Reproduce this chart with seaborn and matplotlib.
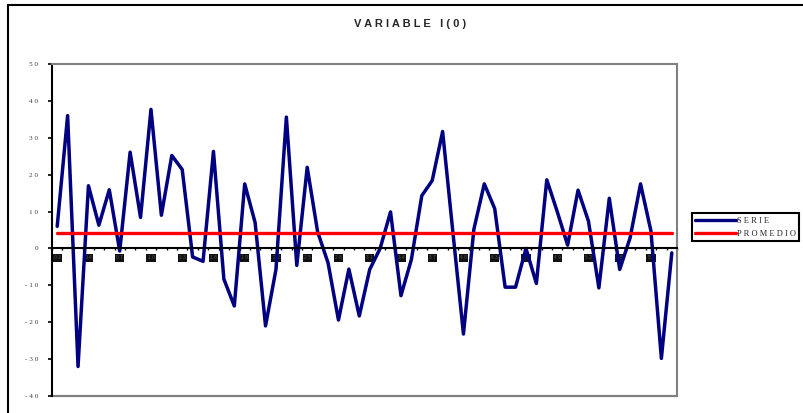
import numpy as np
import pandas as pd
import seaborn as sns
import matplotlib.pyplot as plt
from matplotlib.lines import Line2D

# values
serie = [6, 36, -32, 17, 6.3, 15.9, -0.7, 26.1, 8.4, 37.7,
         9, 25.2, 21.4, -2.3, -3.5, 26.3, -8.3, -15.6, 17.5, 7,
         -21, -5.7, 35.6, -4.6, 22, 4.5, -3.9, -19.4, -5.6, -18.3,
         -5.7, 0, 9.9, -12.8, -3, 14.3, 18.4, 31.7, 4, -23.2,
         5.2, 17.5, 10.8, -10.5, -10.5, 0, -9.5, 18.6, 10, 0.9,
         15.8, 7.4, -10.7, 13.6, -5.7, 2.9, 17.5, 4.7, -29.8, -1.2]
promedio = 4.3
periodos = list(range(1, len(serie) + 1))
y_ticks = [-40, -30, -20, -10, 0, 10, 20, 30, 40, 50]

df = pd.DataFrame({"periodo": range(len(serie)), "SERIE": serie,
                   "PROMEDIO": [promedio] * len(serie)})

sns.set_style("white")
plt.rcParams['font.family'] = ['Liberation Sans', 'DejaVu Sans']

fig = plt.figure(figsize=(8.04, 4.13), dpi=100)
W, H = 804, 413
ax = fig.add_axes([52 / W, 1 - 396 / H, (677 - 52) / W, (396 - 64) / H])

sns.lineplot(data=df, x="periodo", y="SERIE", color="#000080", linewidth=2.5, ax=ax)
sns.lineplot(data=df, x="periodo", y="PROMEDIO", color="#ff0000", linewidth=2.4, ax=ax)

ax.set_xlim(-0.5, len(serie) - 0.5)
ax.set_ylim(-40, 50)
ax.set_xlabel("")
ax.set_ylabel("")

# gray plot-area frame, black y axis and x axis at zero
for s in ["top", "right"]:
    ax.spines[s].set_color("#808080")
    ax.spines[s].set_linewidth(1.5)
ax.spines["left"].set_color("black")
ax.spines["left"].set_linewidth(1.5)
ax.spines["bottom"].set_position(("data", 0))
ax.spines["bottom"].set_color("black")
ax.spines["bottom"].set_linewidth(1.5)
ax.axhline(-40, color="#808080", linewidth=1.6, clip_on=False, zorder=0)

ax.set_yticks(y_ticks)
ax.set_yticklabels([" ".join(str(v)) for v in y_ticks], family="Liberation Serif",
                   fontsize=5.2, color="#404040")
ax.tick_params(axis="y", direction="out", length=3, width=1.2, color="black",
               left=True, pad=7)

tick_pos = list(range(0, len(serie), 3))
ax.set_xticks(tick_pos)
ax.set_xticklabels([" ".join("%02d" % periodos[i]) for i in tick_pos],
                   fontsize=3.5, color="#555555")
ax.set_xticks(np.arange(-0.5, len(serie), 1), minor=True)
ax.tick_params(axis="x", which="major", length=0, pad=5, bottom=True)
ax.tick_params(axis="x", which="minor", direction="out", length=1.5, width=1,
               color="black", bottom=True)
for lab in ax.get_xticklabels():
    lab.set_bbox(dict(facecolor="#111111", edgecolor="none", pad=0.9))

fig.text(410 / W, 1 - 24 / H, "V A R I A B L E   I ( 0 )", ha="center", va="center",
         fontsize=8, fontweight="bold")

handles = [Line2D([], [], color="#000080", linewidth=2.4),
           Line2D([], [], color="#ff0000", linewidth=2.4)]
leg = fig.legend(handles, ["S E R I E", "P R O M E D I O"], loc="upper left",
                 bbox_to_anchor=(692 / W, 1 - 213 / H), fancybox=False,
                 prop={"family": "Liberation Serif", "size": 6},
                 handlelength=4.9, handletextpad=0.05, borderpad=0.42,
                 borderaxespad=0, labelspacing=0.6, edgecolor="black", framealpha=1)
leg.get_frame().set_linewidth(1.5)

# outer chart border
fig.add_artist(Line2D([8 / W, 8 / W], [0, 1 - 5 / H], color="black", linewidth=1.5))
fig.add_artist(Line2D([8 / W, 1], [1 - 5 / H, 1 - 5 / H], color="black", linewidth=1.5))

fig.savefig("out.png", dpi=100)
